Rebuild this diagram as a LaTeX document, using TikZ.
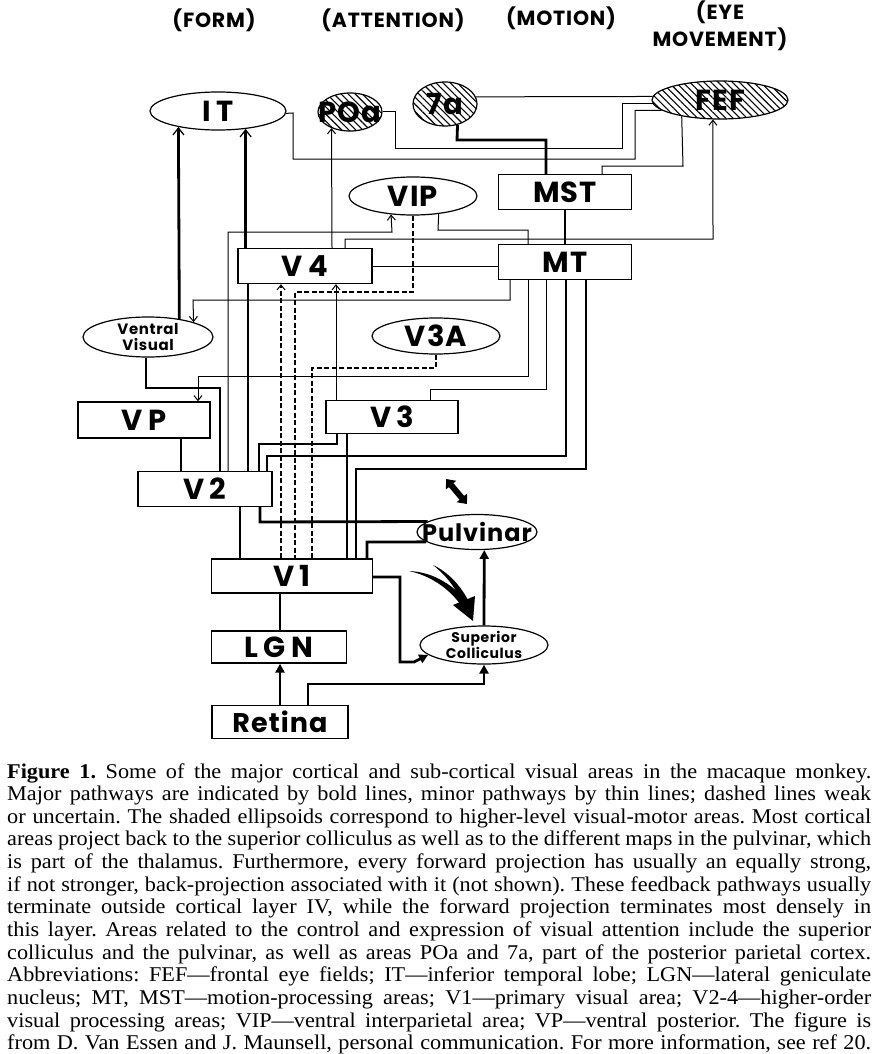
\documentclass[tikz,border=0pt]{standalone}
\usepackage{fontspec}
\usetikzlibrary{arrows.meta,shapes.geometric,patterns.meta}
\newfontfamily\labfont{Poppins}[LetterSpace=4]
\newfontfamily\capfont{Liberation Serif}[FakeStretch=1.06]
\newcommand\gapx{\hspace{0.18em}}
\newcommand\capline[1]{\makebox[864pt][s]{#1}}
\frenchspacing
\begin{document}
\begin{tikzpicture}[x=1pt,y=-1pt,
  box/.style={draw,line width=1.3pt,rectangle,inner sep=0pt,font=\labfont\bfseries\fontsize{29}{32}\selectfont},
  ell/.style={draw,line width=1.2pt,ellipse,inner sep=0pt},
  hatched/.style={ell,pattern={Lines[angle=-45,distance=5pt,line width=1.1pt]}},
  lab/.style={font=\labfont\bfseries\fontsize{29}{32}\selectfont,inner sep=0pt},
  midlab/.style={font=\labfont\bfseries\fontsize{24}{26}\selectfont,inner sep=0pt},
  smalllab/.style={font=\labfont\bfseries\fontsize{15}{16}\selectfont,align=center,inner sep=0pt},
  tinylab/.style={font=\labfont\bfseries\fontsize{14}{14.5}\selectfont,align=center,inner sep=0pt},
  hdr/.style={font=\labfont\bfseries\fontsize{20.5}{27}\selectfont,align=center,inner sep=0pt},
  thickl/.style={line width=2.8pt},
  medl/.style={line width=1.8pt},
  thinl/.style={line width=1pt},
  dashl/.style={line width=1.1pt,dash pattern=on 5pt off 2.5pt},
  oarr/.style={-{Straight Barb[length=5pt,width=8pt,line width=1pt]}},
  itarr/.style={-{Straight Barb[length=7pt,width=11pt,line width=1.2pt]}},
  farr/.style={-{Triangle[length=9pt,width=9pt]}},
]
\fill[white] (0,0) rectangle (877,1054);
\useasboundingbox (0,0) rectangle (877,1054);

% headers
\node[hdr] (hform) at (214,20) {(FORM)};
\node[hdr] (hatt) at (393,20) {(ATTENTION)};
\node[hdr] (hmot) at (561,18) {(MOTION)};
\node[hdr] (heye) at (720,26) {(EYE\\MOVEMENT)};

% areas
\node[ell,minimum width=136pt,minimum height=38pt,label={[lab]center:I\gapx T}] (IT) at (218,111) {};
\node[hatched,minimum width=64pt,minimum height=38pt,label={[lab]center:POa}] (POa) at (350,112) {};
\node[hatched,minimum width=64pt,minimum height=44pt,label={[lab]center:7a}] (N7a) at (445,104) {};
\node[hatched,minimum width=136pt,minimum height=38pt,label={[lab]center:FEF}] (FEF) at (720,100) {};
\node[box,minimum width=133pt,minimum height=35pt] (MST) at (565,192) {MST};
\node[ell,minimum width=128pt,minimum height=38pt,label={[lab]center:VIP}] (VIP) at (413,196) {};
\node[box,minimum width=133pt,minimum height=35pt] (MT) at (565,262) {MT};
\node[box,minimum width=134pt,minimum height=35pt] (V4) at (305,266) {V\gapx 4};
\node[ell,minimum width=130pt,minimum height=40pt,label={[smalllab]center:Ventral\\Visual}] (VV) at (148,337) {};
\node[ell,minimum width=128pt,minimum height=36pt,label={[lab]center:V3A}] (V3A) at (436,336) {};
\node[box,minimum width=132pt,minimum height=36pt] (VP) at (144,420) {V\gapx P};
\node[box,minimum width=132pt,minimum height=33pt] (V3) at (392,417) {V\gapx 3};
\node[box,minimum width=134pt,minimum height=35pt] (V2) at (205,489) {V\gapx 2};
\node[ell,minimum width=120pt,minimum height=35pt,label={[midlab]center:Pulvinar}] (Pulv) at (477,532) {};
\node[box,minimum width=161pt,minimum height=34pt] (V1) at (292,576) {V\gapx 1};
\node[ell,minimum width=128pt,minimum height=38pt,label={[tinylab]center:Superior\\Colliculus}] (SC) at (484,645) {};
\node[box,minimum width=135pt,minimum height=32pt] (LGN) at (279,647) {L\gapx G\gapx N};
\node[box,minimum width=136pt,minimum height=33pt,font=\labfont\bfseries\fontsize{27}{30}\selectfont] (Ret) at (280,722) {Retina};

% bend points
\coordinate (a4a) at (146,388); \coordinate (a4b) at (220,388);
\coordinate (a5a) at (259,444); \coordinate (a5b) at (337,444);
\coordinate (a6a) at (267,456); \coordinate (a6b) at (566,456);
\coordinate (a7a) at (356,469); \coordinate (a7b) at (586,469);
\coordinate (a8) at (260,522);
\coordinate (a9) at (367,542);
\coordinate (a10a) at (400,577); \coordinate (a10b) at (400,662); \coordinate (a10c) at (414,662);
\coordinate (a11a) at (308,684); \coordinate (a11b) at (484,684);
\coordinate (a14a) at (457,140); \coordinate (a14b) at (546,140);
\coordinate (x280) at (280,0); \coordinate (x240) at (240,0);
\coordinate (x181) at (181,0); \coordinate (x347) at (347,0);
\coordinate (x248) at (248,0); \coordinate (x332) at (332,0);
\coordinate (x281) at (281,0); \coordinate (x336) at (336,0);
\coordinate (a20a) at (293,113); \coordinate (a20b) at (293,159); \coordinate (a20c) at (635,159);
\coordinate (a21a) at (395,112); \coordinate (a21b) at (395,148); \coordinate (a21c) at (622,148);
\coordinate (a23a) at (602,166); \coordinate (a23b) at (683,166);
\coordinate (a24a) at (345,239); \coordinate (a24b) at (713,239);
\coordinate (a26a) at (228,232); \coordinate (a26b) at (392,232);
\coordinate (a27a) at (438,230); \coordinate (a27b) at (528,230);
\coordinate (a29a) at (413,292); \coordinate (a29b) at (295,292);
\coordinate (a32a) at (436,368); \coordinate (a32b) at (312,368);
\coordinate (a33a) at (510,300); \coordinate (a33b) at (193,300);
\coordinate (a34a) at (528,376); \coordinate (a34b) at (198,376);
\coordinate (a35a) at (546,389); \coordinate (a35b) at (430,389);

% thick pathways
\draw[thickl,itarr] (VV.30) -- (IT.202);
\draw[thickl,itarr] (V4.north -| IT.-33) -- (IT.-33);
\draw[thickl] (V2.north -| x248) -- (V4.south -| x248);
\draw[thickl] (VV.south -| a4a) -- (a4a) -- (a4b) -- (V2.north -| a4b);
\draw[thickl] (V2.north -| a5a) -- (a5a) -- (a5b) -- (V3.south -| a5b);
\draw[thickl] (V2.north -| a6a) -- (a6a) -- (a6b) -- (MT.south -| a6b);
\draw[thickl] (V1.north -| a7a) -- (a7a) -- (a7b) -- (MT.south -| a7b);
\draw[thickl] (V2.south -| a8) -- (a8) -- (Pulv.168.5);
\draw[thickl] (V1.north -| a9) -- (a9) -- (Pulv.191.5);
\draw[thickl,farr] (V1.east |- a10a) -- (a10a) -- (a10b) -- (a10c) -- (SC.190);
\draw[thickl,farr] (Ret.north -| a11a) -- (a11a) -- (a11b) -- (SC.south);
\draw[thickl,farr] (SC.north) -- (Pulv.-68);
\draw[thickl,farr] (Ret.north -| x280) -- (LGN.south -| x280);
\draw[thickl] (N7a.-59.5) -- (a14a) -- (a14b) -- (MST.north -| a14b);

% medium pathways
\draw[medl] (LGN.north -| x280) -- (V1.south -| x280);
\draw[medl] (V2.south -| x240) -- (V1.north -| x240);
\draw[medl] (VP.south -| x181) -- (V2.north -| x181);
\draw[medl] (V3.south -| x347) -- (V1.north -| x347);
\draw[medl] (MST.south) -- (MT.north);

% thin pathways
\draw[thinl] (IT.-2) -- (a20a) -- (a20b) -- (a20c) -- (a20c |- FEF.190) -- (FEF.190);
\draw[thinl] (POa.east) -- (a21a) -- (a21b) -- (a21c) -- (a21c |- FEF.183) -- (FEF.183);
\draw[thinl] (N7a.13) -- (FEF.177);
\draw[thinl] (MST.north -| a23a) -- (a23a) -- (a23b) -- (FEF.203);
\draw[thinl,oarr] (V4.north -| a24a) -- (a24a) -- (a24b) -- (FEF.250);
\draw[thinl,oarr] (V4.north -| x332) -- (POa.221);
\draw[thinl,oarr] (V2.north -| a26a) -- (a26a) -- (a26b) -- (VIP.220);
\draw[thinl] (VIP.-35) -- (a27a) -- (a27b) -- (MT.north -| a27b);
\draw[thinl] (V4.east) -- (V4.east -| MT.west);
\draw[thinl,oarr] (V3.north -| x336) -- (V4.south -| x336);
\draw[thinl,oarr] (MT.south -| a33a) -- (a33a) -- (a33b) -- (VV.18);
\draw[thinl,oarr] (MT.south -| a34a) -- (a34a) -- (a34b) -- (VP.north -| a34b);
\draw[thinl] (MT.south -| a35a) -- (a35a) -- (a35b) -- (V3.north -| a35b);

% dashed pathways
\draw[dashl] (VIP.south) -- (a29a) -- (a29b) -- (V1.north -| a29b);
\draw[dashl,oarr] (V1.north -| x281) -- (V4.south -| x281);
\draw[dashl] (V3A.south) -- (a32a) -- (a32b) -- (V1.north -| a32b);

% double arrow and swoosh arrow
\draw[line width=6pt,{Triangle[length=8pt,width=13pt]}-{Triangle[length=8pt,width=13pt]}] (446,479) -- (467,504);
\fill (409,571) .. controls (432,576) and (450,590) .. (460,604) -- (466,601) .. controls (455,587) and (435,572) .. (409,571) -- cycle;
\fill (433,565) .. controls (447,576) and (457,590) .. (462,603) -- (468,600) .. controls (460,585) and (448,572) .. (433,565) -- cycle;
\fill (453,605) -- (475,596) -- (473,621) -- cycle;

% caption
\node[anchor=north west,inner sep=0pt,align=left,font=\capfont\fontsize{21}{22.65}\selectfont] (cap) at (7,763) {%
\capline{\textbf{Figure 1.} Some of the major cortical and sub-cortical visual areas in the macaque monkey.}\\
\capline{Major pathways are indicated by bold lines, minor pathways by thin lines; dashed lines weak}\\
\capline{or uncertain. The shaded ellipsoids correspond to higher-level visual-motor areas. Most cortical}\\
\capline{areas project back to the superior colliculus as well as to the different maps in the pulvinar, which}\\
\capline{is part of the thalamus. Furthermore, every forward projection has usually an equally strong,}\\
\capline{if not stronger, back-projection associated with it (not shown). These feedback pathways usually}\\
\capline{terminate outside cortical layer IV, while the forward projection terminates most densely in}\\
\capline{this layer. Areas related to the control and expression of visual attention include the superior}\\
\capline{colliculus and the pulvinar, as well as areas POa and 7a, part of the posterior parietal cortex.}\\
\capline{Abbreviations: FEF—frontal eye fields; IT—inferior temporal lobe; LGN—lateral geniculate}\\
\capline{nucleus; MT, MST—motion-processing areas; V1—primary visual area; V2-4—higher-order}\\
\capline{visual processing areas; VIP—ventral interparietal area; VP—ventral posterior. The figure is}\\
\capline{from D. Van Essen and J. Maunsell, personal communication. For more information, see ref 20.}};
\end{tikzpicture}
\end{document}
